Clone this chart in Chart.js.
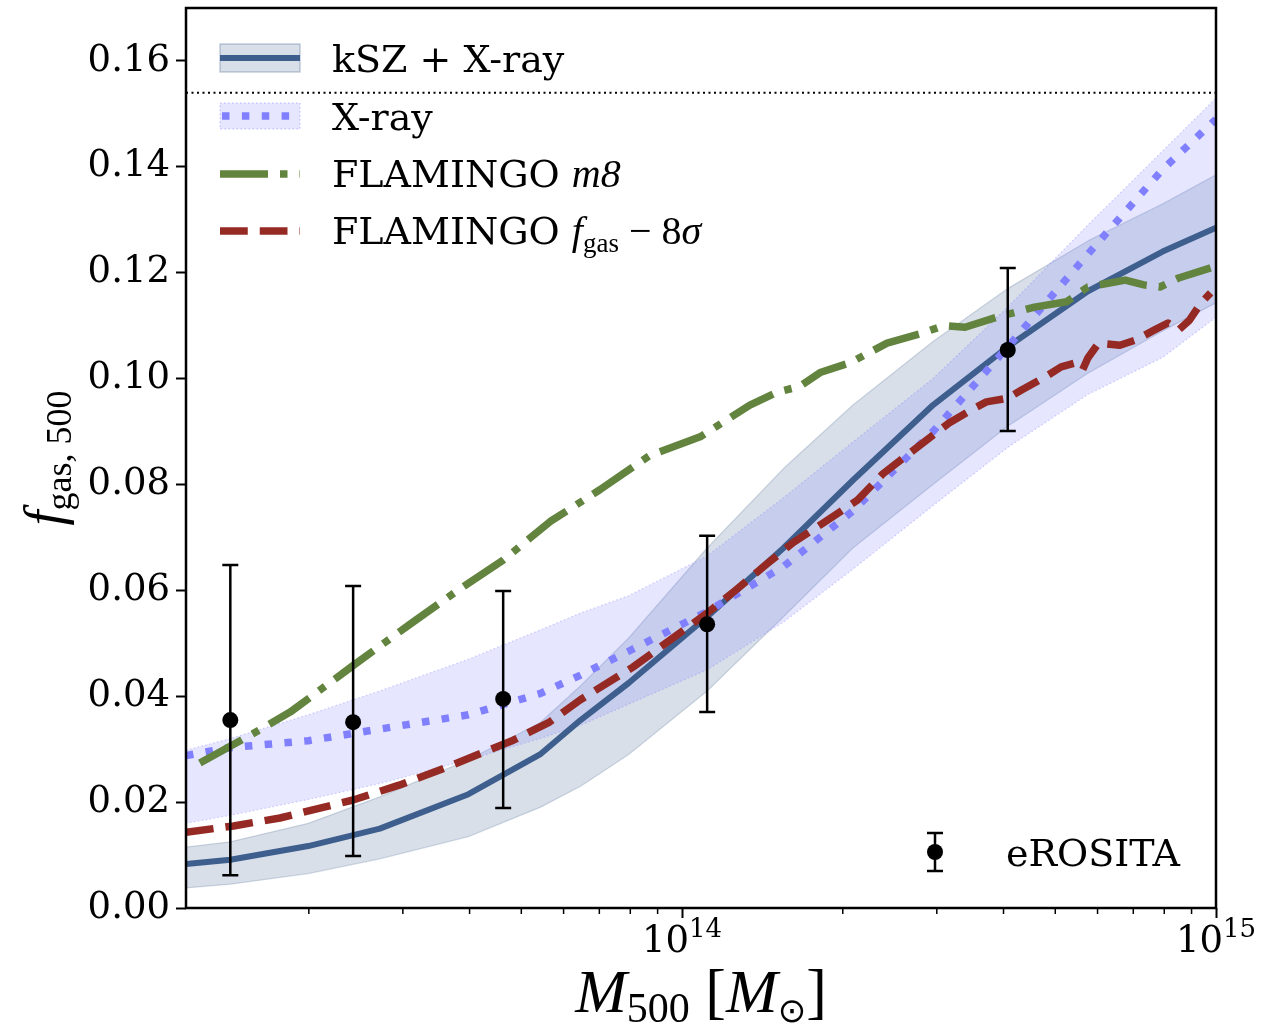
<!DOCTYPE html>
<html>
<head>
<meta charset="utf-8">
<title>f_gas vs M500</title>
<script src="https://cdn.jsdelivr.net/npm/chart.js@4.4.1/dist/chart.umd.min.js"></script>
<style>
  html, body { margin: 0; padding: 0; background: #fff; }
  #wrap { width: 1281px; height: 1029px; }
</style>
</head>
<body>
<div id="wrap"><canvas id="fgas" width="1281" height="1029"></canvas></div>
<script>
// log10(M500 / Msun) grid used by the two posterior bands
const bandLogM = [13.071, 13.154, 13.30, 13.434, 13.60, 13.734, 13.81, 13.90, 14.047, 14.19, 14.32, 14.47, 14.61, 14.76, 14.90, 15.0];

// kSZ + X-ray fit: median and 68% band
const kszMedian = [0.0083, 0.0091, 0.0117, 0.0150, 0.0215, 0.0290, 0.0355, 0.0425, 0.0550, 0.0680, 0.0808, 0.0950, 0.1060, 0.1165, 0.1240, 0.1285];
const kszHigh = [0.0115, 0.0125, 0.0160, 0.0210, 0.0280, 0.0350, 0.0420, 0.0510, 0.0680, 0.0830, 0.0950, 0.1070, 0.1170, 0.1260, 0.1330, 0.1385];
const kszLow = [0.0038, 0.0045, 0.0065, 0.0093, 0.0135, 0.0190, 0.0230, 0.0290, 0.0410, 0.0550, 0.0680, 0.0800, 0.0910, 0.1010, 0.1090, 0.1143];

// X-ray only fit
const xrayMedian = [0.0288, 0.0303, 0.0316, 0.0338, 0.0365, 0.0405, 0.0440, 0.0485, 0.0560, 0.0645, 0.0750, 0.0900, 0.1060, 0.1235, 0.1395, 0.1490];
const xrayHigh = [0.0298, 0.0320, 0.0365, 0.0410, 0.0470, 0.0525, 0.0557, 0.0590, 0.0665, 0.0775, 0.0880, 0.1000, 0.1135, 0.1290, 0.1430, 0.1530];
const xrayLow = [0.0160, 0.0175, 0.0205, 0.0235, 0.0280, 0.0320, 0.0345, 0.0385, 0.0450, 0.0540, 0.0640, 0.0760, 0.0870, 0.0970, 0.1040, 0.1116];

// FLAMINGO m8
const m8LogM = [13.097, 13.18, 13.266, 13.38, 13.496, 13.58, 13.665, 13.753, 13.846, 13.94, 14.034, 14.127, 14.18, 14.22, 14.26, 14.315, 14.384, 14.45, 14.49, 14.53, 14.59, 14.66, 14.72, 14.76, 14.83, 14.865, 14.895, 14.93, 14.99];
const m8Fgas = [0.0274, 0.0320, 0.0370, 0.0455, 0.0540, 0.0600, 0.0657, 0.0730, 0.0790, 0.0855, 0.0890, 0.0950, 0.0975, 0.0985, 0.1012, 0.1030, 0.1067, 0.1086, 0.1100, 0.1097, 0.1116, 0.1135, 0.1145, 0.1173, 0.1186, 0.1177, 0.1173, 0.1190, 0.1209];

// FLAMINGO fgas - 8 sigma
const fgas8LogM = [13.071, 13.16, 13.247, 13.384, 13.47, 13.56, 13.684, 13.75, 13.809, 13.908, 14.047, 14.10, 14.159, 14.208, 14.264, 14.328, 14.376, 14.44, 14.50, 14.54, 14.57, 14.61, 14.635, 14.68, 14.71, 14.735, 14.75, 14.76, 14.78, 14.82, 14.85, 14.885, 14.91, 14.93, 14.95, 14.972, 14.99];
const fgas8Fgas = [0.0143, 0.0155, 0.0170, 0.0204, 0.0232, 0.0266, 0.0317, 0.0350, 0.0393, 0.0455, 0.0557, 0.0600, 0.0650, 0.0690, 0.0727, 0.0770, 0.0820, 0.0870, 0.0916, 0.0940, 0.0956, 0.0963, 0.0978, 0.1003, 0.1022, 0.1029, 0.1016, 0.1039, 0.1067, 0.1063, 0.1073, 0.1092, 0.1105, 0.1092, 0.1110, 0.1143, 0.1162];

// eROSITA stacks
const eroLogM = [13.154, 13.384, 13.665, 14.047, 14.610];
const eroFgas = [0.0355, 0.0351, 0.0395, 0.0536, 0.1054];
const eroLow = [0.0062, 0.0098, 0.0189, 0.0370, 0.0901];
const eroHigh = [0.0648, 0.0608, 0.0599, 0.0703, 0.1209];

const baryonFraction = 0.154;
const yTicks = [0, 0.02, 0.04, 0.06, 0.08, 0.10, 0.12, 0.14, 0.16];
const xMajor = [1e14, 1e15];
const xMajorLabels = [['10', '14'], ['10', '15']];
const xMinor = [2e13, 3e13, 4e13, 5e13, 6e13, 7e13, 8e13, 9e13, 2e14, 3e14, 4e14, 5e14, 6e14, 7e14, 8e14, 9e14];
const xMin = Math.pow(10, 13.071);
const xMax = 1e15;

const BLUE = '#3e5f8e';
const LAV = '#8080ff';
const GREEN = '#62843f';
const RED = '#952a24';

const pts = (logM, vals) => logM.map((l, i) => ({ x: Math.pow(10, l), y: vals[i] }));

const LW = 7.5;

function drawParts(ctx, x, y, parts) {
    let cx = x;
    parts.forEach(([t, font, dy]) => {
        ctx.font = font;
        ctx.fillText(t, cx, y + (dy || 0));
        cx += ctx.measureText(t).width;
    });
    return cx - x;
}
function partsWidth(ctx, parts) {
    let w = 0;
    parts.forEach(([t, font]) => { ctx.font = font; w += ctx.measureText(t).width; });
    return w;
}

const SERIF = '"DejaVu Serif"';
const MATH = '"Liberation Serif"';
const LEG = `38px ${SERIF}`;
const LEGM = `italic 40px ${MATH}`;

const decorations = {
    id: 'decorations',
    afterDatasetsDraw(chart) {
        const { ctx, chartArea: a, scales: { x, y } } = chart;
        ctx.save();
        ctx.beginPath();
        ctx.rect(a.left, a.top, a.right - a.left, a.bottom - a.top);
        ctx.clip();

        // cosmic baryon fraction
        const yb = y.getPixelForValue(baryonFraction);
        ctx.strokeStyle = '#000';
        ctx.lineWidth = 2;
        ctx.setLineDash([2, 3.5]);
        ctx.beginPath();
        ctx.moveTo(a.left, yb);
        ctx.lineTo(a.right, yb);
        ctx.stroke();
        ctx.setLineDash([]);

        // eROSITA error bars
        ctx.lineWidth = 2.5;
        eroLogM.forEach((l, i) => {
            const px = x.getPixelForValue(Math.pow(10, l));
            const lo = y.getPixelForValue(eroLow[i]);
            const hi = y.getPixelForValue(eroHigh[i]);
            ctx.beginPath();
            ctx.moveTo(px, lo); ctx.lineTo(px, hi);
            ctx.moveTo(px - 8, lo); ctx.lineTo(px + 8, lo);
            ctx.moveTo(px - 8, hi); ctx.lineTo(px + 8, hi);
            ctx.stroke();
        });
        ctx.restore();
    },
    afterDraw(chart) {
        const { ctx, chartArea: a, scales: { x } } = chart;
        ctx.save();
        ctx.fillStyle = '#000';
        ctx.strokeStyle = '#000';

        // frame
        ctx.lineWidth = 2.5;
        ctx.strokeRect(a.left, a.top, a.right - a.left, a.bottom - a.top);

        // minor ticks on the mass axis
        ctx.lineWidth = 1.5;
        xMinor.forEach(v => {
            const px = x.getPixelForValue(v);
            ctx.beginPath();
            ctx.moveTo(px, a.bottom);
            ctx.lineTo(px, a.bottom + 6);
            ctx.stroke();
        });

        // major tick labels 10^14, 10^15
        ctx.textBaseline = 'alphabetic';
        ctx.textAlign = 'left';
        xMajor.forEach((v, i) => {
            const parts = [[xMajorLabels[i][0], `37px ${SERIF}`, 0], [xMajorLabels[i][1], `26px ${SERIF}`, -15]];
            const w = partsWidth(ctx, parts);
            drawParts(ctx, x.getPixelForValue(v) - w / 2, 952, parts);
        });

        // axis titles
        const xl = [['M', `italic 62px ${MATH}`, 0], ['500', `42px ${MATH}`, 10], [' [', `62px ${MATH}`, 0],
                    ['M', `italic 62px ${MATH}`, 0], ['\u2299', `34px "DejaVu Sans"`, 10], [']', `62px ${MATH}`, 0]];
        drawParts(ctx, 701 - partsWidth(ctx, xl) / 2, 1012, xl);

        const yl = [['f', `italic 54px ${MATH}`, 0], ['gas, 500', `36px ${MATH}`, 9]];
        ctx.save();
        ctx.translate(62, 458);
        ctx.rotate(-Math.PI / 2);
        drawParts(ctx, -partsWidth(ctx, yl) / 2, 0, yl);
        ctx.restore();

        // legend handles
        const hx0 = 220, hx1 = 300;
        ctx.fillStyle = 'rgba(62,95,140,0.2)';
        ctx.fillRect(hx0, 44, hx1 - hx0, 28);
        ctx.strokeStyle = 'rgba(62,95,140,0.3)';
        ctx.lineWidth = 1.5;
        ctx.strokeRect(hx0, 44, hx1 - hx0, 28);
        ctx.strokeStyle = BLUE;
        ctx.lineWidth = 6;
        ctx.beginPath(); ctx.moveTo(hx0, 58); ctx.lineTo(hx1, 58); ctx.stroke();

        ctx.fillStyle = 'rgba(128,128,255,0.2)';
        ctx.fillRect(hx0, 103, hx1 - hx0, 26);
        ctx.strokeStyle = 'rgba(128,128,255,0.35)';
        ctx.lineWidth = 1.5;
        ctx.setLineDash([1.5, 2.5]);
        ctx.strokeRect(hx0, 103, hx1 - hx0, 26);
        ctx.strokeStyle = LAV;
        ctx.lineWidth = LW;
        ctx.setLineDash([LW, 1.65 * LW]);
        ctx.beginPath(); ctx.moveTo(hx0 + 2, 116); ctx.lineTo(hx1, 116); ctx.stroke();

        ctx.strokeStyle = GREEN;
        ctx.setLineDash([6.4 * LW, 1.6 * LW, LW, 1.6 * LW]);
        ctx.beginPath(); ctx.moveTo(hx0, 174); ctx.lineTo(hx1, 174); ctx.stroke();

        ctx.strokeStyle = RED;
        ctx.setLineDash([3.7 * LW, 1.6 * LW]);
        ctx.beginPath(); ctx.moveTo(hx0, 231); ctx.lineTo(hx1, 231); ctx.stroke();
        ctx.setLineDash([]);

        // legend labels
        ctx.fillStyle = '#000';
        const tx = 332;
        drawParts(ctx, tx, 72, [['kSZ + X-ray', LEG, 0]]);
        drawParts(ctx, tx, 130, [['X-ray', LEG, 0]]);
        drawParts(ctx, tx, 187, [['FLAMINGO ', LEG, 0], ['m8', LEGM, 0]]);
        drawParts(ctx, tx, 244, [['FLAMINGO ', LEG, 0], ['f', LEGM, 0],
                                 ['gas', `27px ${MATH}`, 8], [' \u2212 8', `40px ${MATH}`, 0], ['\u03c3', LEGM, 0]]);

        // eROSITA legend entry
        ctx.strokeStyle = '#000';
        ctx.lineWidth = 2.5;
        ctx.beginPath();
        ctx.moveTo(935, 833); ctx.lineTo(935, 871);
        ctx.moveTo(927, 833); ctx.lineTo(943, 833);
        ctx.moveTo(927, 871); ctx.lineTo(943, 871);
        ctx.stroke();
        ctx.beginPath(); ctx.arc(935, 852, 8, 0, Math.PI * 2); ctx.fill();
        drawParts(ctx, 1006, 866, [['eROSITA', LEG, 0]]);
        ctx.restore();
    }
};

const lineBase = { pointRadius: 0, fill: false, tension: 0, borderJoinStyle: 'round', borderCapStyle: 'butt' };

new Chart(document.getElementById('fgas'), {
    type: 'line',
    data: {
        datasets: [
            { label: 'eROSITA', data: pts(eroLogM, eroFgas), showLine: false, pointRadius: 8,
              pointBackgroundColor: '#000', pointBorderColor: '#000', pointBorderWidth: 0 },
            { ...lineBase, label: 'FLAMINGO fgas-8sigma', data: pts(fgas8LogM, fgas8Fgas), borderColor: RED,
              borderWidth: LW, borderDash: [3.7 * LW, 1.6 * LW] },
            { ...lineBase, label: 'FLAMINGO m8', data: pts(m8LogM, m8Fgas), borderColor: GREEN,
              borderWidth: LW, borderDash: [6.4 * LW, 1.6 * LW, LW, 1.6 * LW] },
            { ...lineBase, label: 'X-ray', data: pts(bandLogM, xrayMedian), borderColor: LAV,
              borderWidth: LW, borderDash: [LW, 1.65 * LW] },
            { ...lineBase, label: 'kSZ + X-ray', data: pts(bandLogM, kszMedian), borderColor: BLUE, borderWidth: 6 },
            { ...lineBase, label: 'X-ray hi', data: pts(bandLogM, xrayHigh), fill: '+1',
              backgroundColor: 'rgba(128,128,255,0.2)', borderColor: 'rgba(128,128,255,0.35)', borderWidth: 1.3, borderDash: [1.5, 2.5] },
            { ...lineBase, label: 'X-ray lo', data: pts(bandLogM, xrayLow),
              borderColor: 'rgba(128,128,255,0.35)', borderWidth: 1.3, borderDash: [1.5, 2.5] },
            { ...lineBase, label: 'kSZ hi', data: pts(bandLogM, kszHigh), fill: '+1',
              backgroundColor: 'rgba(62,95,140,0.2)', borderColor: 'rgba(62,95,140,0.22)', borderWidth: 1.3 },
            { ...lineBase, label: 'kSZ lo', data: pts(bandLogM, kszLow),
              borderColor: 'rgba(62,95,140,0.22)', borderWidth: 1.3 }
        ]
    },
    options: {
        responsive: false,
        animation: false,
        layout: { padding: { left: 0, top: 8, right: 65, bottom: 0 } },
        plugins: { legend: { display: false }, tooltip: { enabled: false } },
        scales: {
            x: {
                type: 'logarithmic', min: xMin, max: xMax,
                afterFit: s => { s.height = 121; s.paddingLeft = 0; s.paddingRight = 0; },
                afterBuildTicks: s => { s.ticks = xMajor.map(v => ({ value: v })); },
                ticks: { display: false },
                grid: { drawOnChartArea: false, drawTicks: true, tickLength: 10, tickWidth: 2, tickColor: '#000' },
                border: { display: false }
            },
            y: {
                min: 0, max: 0.17,
                afterFit: s => { s.width = 186; s.paddingTop = 0; s.paddingBottom = 0; },
                afterBuildTicks: s => { s.ticks = yTicks.map(v => ({ value: v })); },
                ticks: { color: '#000', padding: 6, autoSkip: false,
                         font: { family: 'DejaVu Serif', size: 37 }, callback: v => v.toFixed(2) },
                grid: { drawOnChartArea: false, drawTicks: true, tickLength: 10, tickWidth: 2, tickColor: '#000' },
                border: { display: false }
            }
        }
    },
    plugins: [decorations]
});
</script>
</body>
</html>
